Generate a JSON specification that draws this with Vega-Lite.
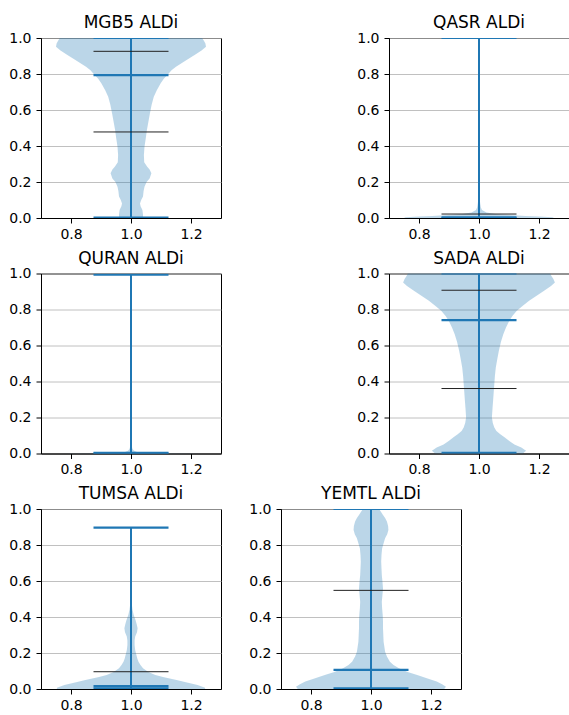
{
  "$schema": "https://vega.github.io/schema/vega-lite/v6.json",
  "background": "white",
  "padding": {"left": 8, "top": 13, "right": 0, "bottom": 0},
  "datasets": {
    "body": [
      {"panel":"MGB5","y":0.0,"lo":0.960,"hi":1.040},
      {"panel":"MGB5","y":0.02,"lo":0.960,"hi":1.040},
      {"panel":"MGB5","y":0.044,"lo":0.962,"hi":1.038},
      {"panel":"MGB5","y":0.065,"lo":0.968,"hi":1.032},
      {"panel":"MGB5","y":0.081,"lo":0.970,"hi":1.030},
      {"panel":"MGB5","y":0.10,"lo":0.966,"hi":1.034},
      {"panel":"MGB5","y":0.119,"lo":0.960,"hi":1.040},
      {"panel":"MGB5","y":0.15,"lo":0.958,"hi":1.042},
      {"panel":"MGB5","y":0.174,"lo":0.955,"hi":1.045},
      {"panel":"MGB5","y":0.2,"lo":0.948,"hi":1.052},
      {"panel":"MGB5","y":0.22,"lo":0.938,"hi":1.062},
      {"panel":"MGB5","y":0.248,"lo":0.932,"hi":1.068},
      {"panel":"MGB5","y":0.27,"lo":0.938,"hi":1.062},
      {"panel":"MGB5","y":0.285,"lo":0.946,"hi":1.054},
      {"panel":"MGB5","y":0.31,"lo":0.956,"hi":1.044},
      {"panel":"MGB5","y":0.35,"lo":0.957,"hi":1.043},
      {"panel":"MGB5","y":0.396,"lo":0.955,"hi":1.045},
      {"panel":"MGB5","y":0.44,"lo":0.951,"hi":1.049},
      {"panel":"MGB5","y":0.489,"lo":0.947,"hi":1.053},
      {"panel":"MGB5","y":0.535,"lo":0.942,"hi":1.058},
      {"panel":"MGB5","y":0.581,"lo":0.937,"hi":1.063},
      {"panel":"MGB5","y":0.63,"lo":0.931,"hi":1.069},
      {"panel":"MGB5","y":0.674,"lo":0.924,"hi":1.076},
      {"panel":"MGB5","y":0.71,"lo":0.914,"hi":1.086},
      {"panel":"MGB5","y":0.748,"lo":0.901,"hi":1.099},
      {"panel":"MGB5","y":0.775,"lo":0.890,"hi":1.110},
      {"panel":"MGB5","y":0.794,"lo":0.879,"hi":1.121},
      {"panel":"MGB5","y":0.822,"lo":0.864,"hi":1.136},
      {"panel":"MGB5","y":0.84,"lo":0.850,"hi":1.150},
      {"panel":"MGB5","y":0.859,"lo":0.833,"hi":1.167},
      {"panel":"MGB5","y":0.88,"lo":0.812,"hi":1.188},
      {"panel":"MGB5","y":0.906,"lo":0.788,"hi":1.212},
      {"panel":"MGB5","y":0.93,"lo":0.765,"hi":1.235},
      {"panel":"MGB5","y":0.952,"lo":0.750,"hi":1.250},
      {"panel":"MGB5","y":0.97,"lo":0.752,"hi":1.248},
      {"panel":"MGB5","y":0.985,"lo":0.757,"hi":1.243},
      {"panel":"MGB5","y":1.0,"lo":0.763,"hi":1.237},

      {"panel":"QASR","y":0.0,"lo":0.75,"hi":1.25},
      {"panel":"QASR","y":0.004,"lo":0.755,"hi":1.245},
      {"panel":"QASR","y":0.008,"lo":0.8,"hi":1.2},
      {"panel":"QASR","y":0.011,"lo":0.845,"hi":1.155},
      {"panel":"QASR","y":0.016,"lo":0.9,"hi":1.1},
      {"panel":"QASR","y":0.022,"lo":0.945,"hi":1.055},
      {"panel":"QASR","y":0.03,"lo":0.975,"hi":1.025},
      {"panel":"QASR","y":0.044,"lo":0.99,"hi":1.01},
      {"panel":"QASR","y":0.06,"lo":0.994,"hi":1.006},
      {"panel":"QASR","y":0.08,"lo":0.996,"hi":1.004},
      {"panel":"QASR","y":0.11,"lo":0.998,"hi":1.002},
      {"panel":"QASR","y":0.14,"lo":0.999,"hi":1.001},
      {"panel":"QASR","y":0.2,"lo":0.9997,"hi":1.0003},
      {"panel":"QASR","y":1.0,"lo":1.0,"hi":1.0},

      {"panel":"QURAN","y":0.0,"lo":0.75,"hi":1.25},
      {"panel":"QURAN","y":0.001,"lo":0.9,"hi":1.1},
      {"panel":"QURAN","y":0.003,"lo":0.96,"hi":1.04},
      {"panel":"QURAN","y":0.008,"lo":0.98,"hi":1.02},
      {"panel":"QURAN","y":0.015,"lo":0.99,"hi":1.01},
      {"panel":"QURAN","y":0.025,"lo":0.995,"hi":1.005},
      {"panel":"QURAN","y":0.045,"lo":0.998,"hi":1.002},
      {"panel":"QURAN","y":0.08,"lo":0.9995,"hi":1.0005},
      {"panel":"QURAN","y":1.0,"lo":1.0,"hi":1.0},

      {"panel":"SADA","y":0.0,"lo":0.854,"hi":1.146},
      {"panel":"SADA","y":0.015,"lo":0.843,"hi":1.157},
      {"panel":"SADA","y":0.033,"lo":0.859,"hi":1.141},
      {"panel":"SADA","y":0.05,"lo":0.882,"hi":1.118},
      {"panel":"SADA","y":0.07,"lo":0.899,"hi":1.101},
      {"panel":"SADA","y":0.09,"lo":0.915,"hi":1.085},
      {"panel":"SADA","y":0.107,"lo":0.929,"hi":1.071},
      {"panel":"SADA","y":0.125,"lo":0.942,"hi":1.058},
      {"panel":"SADA","y":0.144,"lo":0.949,"hi":1.051},
      {"panel":"SADA","y":0.17,"lo":0.954,"hi":1.046},
      {"panel":"SADA","y":0.2,"lo":0.957,"hi":1.043},
      {"panel":"SADA","y":0.25,"lo":0.955,"hi":1.045},
      {"panel":"SADA","y":0.293,"lo":0.953,"hi":1.047},
      {"panel":"SADA","y":0.34,"lo":0.951,"hi":1.049},
      {"panel":"SADA","y":0.385,"lo":0.949,"hi":1.051},
      {"panel":"SADA","y":0.43,"lo":0.947,"hi":1.053},
      {"panel":"SADA","y":0.478,"lo":0.944,"hi":1.056},
      {"panel":"SADA","y":0.525,"lo":0.939,"hi":1.061},
      {"panel":"SADA","y":0.57,"lo":0.934,"hi":1.066},
      {"panel":"SADA","y":0.62,"lo":0.927,"hi":1.073},
      {"panel":"SADA","y":0.663,"lo":0.919,"hi":1.081},
      {"panel":"SADA","y":0.70,"lo":0.910,"hi":1.090},
      {"panel":"SADA","y":0.737,"lo":0.899,"hi":1.101},
      {"panel":"SADA","y":0.765,"lo":0.888,"hi":1.112},
      {"panel":"SADA","y":0.793,"lo":0.874,"hi":1.126},
      {"panel":"SADA","y":0.82,"lo":0.855,"hi":1.145},
      {"panel":"SADA","y":0.848,"lo":0.833,"hi":1.167},
      {"panel":"SADA","y":0.876,"lo":0.808,"hi":1.192},
      {"panel":"SADA","y":0.904,"lo":0.783,"hi":1.217},
      {"panel":"SADA","y":0.93,"lo":0.760,"hi":1.240},
      {"panel":"SADA","y":0.95,"lo":0.747,"hi":1.253},
      {"panel":"SADA","y":0.97,"lo":0.752,"hi":1.248},
      {"panel":"SADA","y":0.985,"lo":0.758,"hi":1.242},
      {"panel":"SADA","y":1.0,"lo":0.763,"hi":1.237},

      {"panel":"TUMSA","y":0.0,"lo":0.753,"hi":1.247},
      {"panel":"TUMSA","y":0.007,"lo":0.753,"hi":1.247},
      {"panel":"TUMSA","y":0.022,"lo":0.778,"hi":1.222},
      {"panel":"TUMSA","y":0.035,"lo":0.81,"hi":1.19},
      {"panel":"TUMSA","y":0.05,"lo":0.848,"hi":1.152},
      {"panel":"TUMSA","y":0.065,"lo":0.89,"hi":1.11},
      {"panel":"TUMSA","y":0.078,"lo":0.919,"hi":1.081},
      {"panel":"TUMSA","y":0.095,"lo":0.942,"hi":1.058},
      {"panel":"TUMSA","y":0.115,"lo":0.960,"hi":1.040},
      {"panel":"TUMSA","y":0.135,"lo":0.969,"hi":1.031},
      {"panel":"TUMSA","y":0.152,"lo":0.975,"hi":1.025},
      {"panel":"TUMSA","y":0.17,"lo":0.979,"hi":1.021},
      {"panel":"TUMSA","y":0.189,"lo":0.982,"hi":1.018},
      {"panel":"TUMSA","y":0.215,"lo":0.986,"hi":1.014},
      {"panel":"TUMSA","y":0.244,"lo":0.988,"hi":1.012},
      {"panel":"TUMSA","y":0.27,"lo":0.988,"hi":1.012},
      {"panel":"TUMSA","y":0.291,"lo":0.986,"hi":1.014},
      {"panel":"TUMSA","y":0.315,"lo":0.980,"hi":1.020},
      {"panel":"TUMSA","y":0.337,"lo":0.978,"hi":1.022},
      {"panel":"TUMSA","y":0.36,"lo":0.981,"hi":1.019},
      {"panel":"TUMSA","y":0.383,"lo":0.985,"hi":1.015},
      {"panel":"TUMSA","y":0.411,"lo":0.991,"hi":1.009},
      {"panel":"TUMSA","y":0.44,"lo":0.995,"hi":1.005},
      {"panel":"TUMSA","y":0.467,"lo":0.997,"hi":1.003},
      {"panel":"TUMSA","y":0.5,"lo":0.9985,"hi":1.0015},
      {"panel":"TUMSA","y":0.55,"lo":0.9995,"hi":1.0005},
      {"panel":"TUMSA","y":0.6,"lo":1.0,"hi":1.0},
      {"panel":"TUMSA","y":0.896,"lo":1.0,"hi":1.0},

      {"panel":"YEMTL","y":0.0,"lo":0.756,"hi":1.244},
      {"panel":"YEMTL","y":0.013,"lo":0.75,"hi":1.25},
      {"panel":"YEMTL","y":0.027,"lo":0.763,"hi":1.237},
      {"panel":"YEMTL","y":0.041,"lo":0.781,"hi":1.219},
      {"panel":"YEMTL","y":0.06,"lo":0.814,"hi":1.186},
      {"panel":"YEMTL","y":0.078,"lo":0.846,"hi":1.154},
      {"panel":"YEMTL","y":0.095,"lo":0.878,"hi":1.122},
      {"panel":"YEMTL","y":0.115,"lo":0.907,"hi":1.093},
      {"panel":"YEMTL","y":0.133,"lo":0.925,"hi":1.075},
      {"panel":"YEMTL","y":0.152,"lo":0.937,"hi":1.063},
      {"panel":"YEMTL","y":0.18,"lo":0.947,"hi":1.053},
      {"panel":"YEMTL","y":0.207,"lo":0.953,"hi":1.047},
      {"panel":"YEMTL","y":0.263,"lo":0.958,"hi":1.042},
      {"panel":"YEMTL","y":0.30,"lo":0.959,"hi":1.041},
      {"panel":"YEMTL","y":0.337,"lo":0.960,"hi":1.040},
      {"panel":"YEMTL","y":0.375,"lo":0.960,"hi":1.040},
      {"panel":"YEMTL","y":0.411,"lo":0.961,"hi":1.039},
      {"panel":"YEMTL","y":0.45,"lo":0.963,"hi":1.037},
      {"panel":"YEMTL","y":0.485,"lo":0.964,"hi":1.036},
      {"panel":"YEMTL","y":0.52,"lo":0.962,"hi":1.038},
      {"panel":"YEMTL","y":0.559,"lo":0.960,"hi":1.040},
      {"panel":"YEMTL","y":0.60,"lo":0.962,"hi":1.038},
      {"panel":"YEMTL","y":0.633,"lo":0.964,"hi":1.036},
      {"panel":"YEMTL","y":0.67,"lo":0.965,"hi":1.035},
      {"panel":"YEMTL","y":0.707,"lo":0.966,"hi":1.034},
      {"panel":"YEMTL","y":0.745,"lo":0.965,"hi":1.035},
      {"panel":"YEMTL","y":0.781,"lo":0.963,"hi":1.037},
      {"panel":"YEMTL","y":0.81,"lo":0.958,"hi":1.042},
      {"panel":"YEMTL","y":0.837,"lo":0.953,"hi":1.047},
      {"panel":"YEMTL","y":0.86,"lo":0.946,"hi":1.054},
      {"panel":"YEMTL","y":0.883,"lo":0.942,"hi":1.058},
      {"panel":"YEMTL","y":0.905,"lo":0.943,"hi":1.057},
      {"panel":"YEMTL","y":0.93,"lo":0.947,"hi":1.053},
      {"panel":"YEMTL","y":0.95,"lo":0.953,"hi":1.047},
      {"panel":"YEMTL","y":0.967,"lo":0.960,"hi":1.040},
      {"panel":"YEMTL","y":0.985,"lo":0.967,"hi":1.033},
      {"panel":"YEMTL","y":1.0,"lo":0.973,"hi":1.027}
    ],
    "range": [
      {"panel":"MGB5","ymin":0.002,"ymax":1.0},
      {"panel":"QASR","ymin":0.0,"ymax":1.0},
      {"panel":"QURAN","ymin":0.0,"ymax":0.993},
      {"panel":"SADA","ymin":0.004,"ymax":1.0},
      {"panel":"TUMSA","ymin":0.003,"ymax":0.896},
      {"panel":"YEMTL","ymin":0.004,"ymax":1.0}
    ],
    "stat": [
      {"panel":"MGB5","v":0.002,"c":"blue"},
      {"panel":"MGB5","v":0.794,"c":"blue"},
      {"panel":"MGB5","v":1.0,"c":"blue"},
      {"panel":"MGB5","v":0.926,"c":"black"},
      {"panel":"MGB5","v":0.478,"c":"black"},
      {"panel":"QASR","v":0.0,"c":"blue"},
      {"panel":"QASR","v":0.004,"c":"blue"},
      {"panel":"QASR","v":1.0,"c":"blue"},
      {"panel":"QASR","v":0.022,"c":"black"},
      {"panel":"QURAN","v":0.0,"c":"blue"},
      {"panel":"QURAN","v":0.003,"c":"blue"},
      {"panel":"QURAN","v":0.993,"c":"blue"},
      {"panel":"SADA","v":0.004,"c":"blue"},
      {"panel":"SADA","v":0.741,"c":"blue"},
      {"panel":"SADA","v":1.0,"c":"blue"},
      {"panel":"SADA","v":0.907,"c":"black"},
      {"panel":"SADA","v":0.361,"c":"black"},
      {"panel":"TUMSA","v":0.003,"c":"blue"},
      {"panel":"TUMSA","v":0.016,"c":"blue"},
      {"panel":"TUMSA","v":0.896,"c":"blue"},
      {"panel":"TUMSA","v":0.096,"c":"black"},
      {"panel":"YEMTL","v":0.004,"c":"blue"},
      {"panel":"YEMTL","v":0.106,"c":"blue"},
      {"panel":"YEMTL","v":1.0,"c":"blue"},
      {"panel":"YEMTL","v":0.548,"c":"black"}
    ]
  },
  "spacing": 6.5,
  "vconcat": [
    {
      "hconcat": [
        {
          "title": "MGB5 ALDi", "width": 180, "height": 180,
          "layer": [
            {"data": {"name": "body"}, "transform": [{"filter": {"field": "panel", "equal": "MGB5"}}],
             "mark": {"type": "area", "orient": "horizontal", "fill": "#1f77b4", "fillOpacity": 0.3},
             "encoding": {
               "y": {"field": "y", "type": "quantitative", "scale": {"domain": [0, 1]}, "axis": {"values": [0, 0.2, 0.4, 0.6, 0.8, 1.0], "format": ".1f", "title": null}},
               "x": {"field": "lo", "type": "quantitative", "scale": {"domain": [0.725, 1.275]}, "axis": {"values": [0.8, 1.0, 1.2], "format": ".1f", "title": null}},
               "x2": {"field": "hi"}}},
            {"data": {"name": "range"}, "transform": [{"filter": {"field": "panel", "equal": "MGB5"}}],
             "mark": {"type": "rule", "color": "#1f77b4", "strokeWidth": 2, "clip": true},
             "encoding": {"x": {"datum": 1, "type": "quantitative", "axis": {"values": [0.8, 1.0, 1.2], "format": ".1f", "title": null}}, "y": {"field": "ymin", "type": "quantitative", "axis": {"values": [0, 0.2, 0.4, 0.6, 0.8, 1.0], "format": ".1f", "title": null}}, "y2": {"field": "ymax"}}},
            {"data": {"name": "stat"}, "transform": [{"filter": {"field": "panel", "equal": "MGB5"}}],
             "mark": {"type": "rule", "clip": true},
             "encoding": {"y": {"field": "v", "type": "quantitative", "axis": {"values": [0, 0.2, 0.4, 0.6, 0.8, 1.0], "format": ".1f", "title": null}}, "x": {"datum": 0.875, "type": "quantitative", "axis": {"values": [0.8, 1.0, 1.2], "format": ".1f", "title": null}}, "x2": {"datum": 1.125},
               "color": {"field": "c", "type": "nominal", "scale": {"domain": ["blue", "black"], "range": ["#1f77b4", "#222222"]}, "legend": null},
               "strokeWidth": {"field": "c", "type": "nominal", "scale": {"domain": ["blue", "black"], "range": [2.2, 1]}, "legend": null}}}
          ]
        },
        {
          "title": "QASR ALDi", "width": 180, "height": 180,
          "layer": [
            {"data": {"name": "body"}, "transform": [{"filter": {"field": "panel", "equal": "QASR"}}],
             "mark": {"type": "area", "orient": "horizontal", "fill": "#1f77b4", "fillOpacity": 0.3},
             "encoding": {
               "y": {"field": "y", "type": "quantitative", "scale": {"domain": [0, 1]}, "axis": {"values": [0, 0.2, 0.4, 0.6, 0.8, 1.0], "format": ".1f", "title": null}},
               "x": {"field": "lo", "type": "quantitative", "scale": {"domain": [0.725, 1.275]}, "axis": {"values": [0.8, 1.0, 1.2], "format": ".1f", "title": null}},
               "x2": {"field": "hi"}}},
            {"data": {"name": "range"}, "transform": [{"filter": {"field": "panel", "equal": "QASR"}}],
             "mark": {"type": "rule", "color": "#1f77b4", "strokeWidth": 2, "clip": true},
             "encoding": {"x": {"datum": 1, "type": "quantitative", "axis": {"values": [0.8, 1.0, 1.2], "format": ".1f", "title": null}}, "y": {"field": "ymin", "type": "quantitative", "axis": {"values": [0, 0.2, 0.4, 0.6, 0.8, 1.0], "format": ".1f", "title": null}}, "y2": {"field": "ymax"}}},
            {"data": {"name": "stat"}, "transform": [{"filter": {"field": "panel", "equal": "QASR"}}],
             "mark": {"type": "rule", "clip": true},
             "encoding": {"y": {"field": "v", "type": "quantitative", "axis": {"values": [0, 0.2, 0.4, 0.6, 0.8, 1.0], "format": ".1f", "title": null}}, "x": {"datum": 0.875, "type": "quantitative", "axis": {"values": [0.8, 1.0, 1.2], "format": ".1f", "title": null}}, "x2": {"datum": 1.125},
               "color": {"field": "c", "type": "nominal", "scale": {"domain": ["blue", "black"], "range": ["#1f77b4", "#222222"]}, "legend": null},
               "strokeWidth": {"field": "c", "type": "nominal", "scale": {"domain": ["blue", "black"], "range": [2.2, 1]}, "legend": null}}}
          ]
        }
      ],
      "spacing": 168, "bounds": "flush"
    },
    {
      "hconcat": [
        {
          "title": "QURAN ALDi", "width": 180, "height": 180,
          "layer": [
            {"data": {"name": "body"}, "transform": [{"filter": {"field": "panel", "equal": "QURAN"}}],
             "mark": {"type": "area", "orient": "horizontal", "fill": "#1f77b4", "fillOpacity": 0.3},
             "encoding": {
               "y": {"field": "y", "type": "quantitative", "scale": {"domain": [0, 1]}, "axis": {"values": [0, 0.2, 0.4, 0.6, 0.8, 1.0], "format": ".1f", "title": null}},
               "x": {"field": "lo", "type": "quantitative", "scale": {"domain": [0.725, 1.275]}, "axis": {"values": [0.8, 1.0, 1.2], "format": ".1f", "title": null}},
               "x2": {"field": "hi"}}},
            {"data": {"name": "range"}, "transform": [{"filter": {"field": "panel", "equal": "QURAN"}}],
             "mark": {"type": "rule", "color": "#1f77b4", "strokeWidth": 2, "clip": true},
             "encoding": {"x": {"datum": 1, "type": "quantitative", "axis": {"values": [0.8, 1.0, 1.2], "format": ".1f", "title": null}}, "y": {"field": "ymin", "type": "quantitative", "axis": {"values": [0, 0.2, 0.4, 0.6, 0.8, 1.0], "format": ".1f", "title": null}}, "y2": {"field": "ymax"}}},
            {"data": {"name": "stat"}, "transform": [{"filter": {"field": "panel", "equal": "QURAN"}}],
             "mark": {"type": "rule", "clip": true},
             "encoding": {"y": {"field": "v", "type": "quantitative", "axis": {"values": [0, 0.2, 0.4, 0.6, 0.8, 1.0], "format": ".1f", "title": null}}, "x": {"datum": 0.875, "type": "quantitative", "axis": {"values": [0.8, 1.0, 1.2], "format": ".1f", "title": null}}, "x2": {"datum": 1.125},
               "color": {"field": "c", "type": "nominal", "scale": {"domain": ["blue", "black"], "range": ["#1f77b4", "#222222"]}, "legend": null},
               "strokeWidth": {"field": "c", "type": "nominal", "scale": {"domain": ["blue", "black"], "range": [2.2, 1]}, "legend": null}}}
          ]
        },
        {
          "title": "SADA ALDi", "width": 180, "height": 180,
          "layer": [
            {"data": {"name": "body"}, "transform": [{"filter": {"field": "panel", "equal": "SADA"}}],
             "mark": {"type": "area", "orient": "horizontal", "fill": "#1f77b4", "fillOpacity": 0.3},
             "encoding": {
               "y": {"field": "y", "type": "quantitative", "scale": {"domain": [0, 1]}, "axis": {"values": [0, 0.2, 0.4, 0.6, 0.8, 1.0], "format": ".1f", "title": null}},
               "x": {"field": "lo", "type": "quantitative", "scale": {"domain": [0.725, 1.275]}, "axis": {"values": [0.8, 1.0, 1.2], "format": ".1f", "title": null}},
               "x2": {"field": "hi"}}},
            {"data": {"name": "range"}, "transform": [{"filter": {"field": "panel", "equal": "SADA"}}],
             "mark": {"type": "rule", "color": "#1f77b4", "strokeWidth": 2, "clip": true},
             "encoding": {"x": {"datum": 1, "type": "quantitative", "axis": {"values": [0.8, 1.0, 1.2], "format": ".1f", "title": null}}, "y": {"field": "ymin", "type": "quantitative", "axis": {"values": [0, 0.2, 0.4, 0.6, 0.8, 1.0], "format": ".1f", "title": null}}, "y2": {"field": "ymax"}}},
            {"data": {"name": "stat"}, "transform": [{"filter": {"field": "panel", "equal": "SADA"}}],
             "mark": {"type": "rule", "clip": true},
             "encoding": {"y": {"field": "v", "type": "quantitative", "axis": {"values": [0, 0.2, 0.4, 0.6, 0.8, 1.0], "format": ".1f", "title": null}}, "x": {"datum": 0.875, "type": "quantitative", "axis": {"values": [0.8, 1.0, 1.2], "format": ".1f", "title": null}}, "x2": {"datum": 1.125},
               "color": {"field": "c", "type": "nominal", "scale": {"domain": ["blue", "black"], "range": ["#1f77b4", "#222222"]}, "legend": null},
               "strokeWidth": {"field": "c", "type": "nominal", "scale": {"domain": ["blue", "black"], "range": [2.2, 1]}, "legend": null}}}
          ]
        }
      ],
      "spacing": 168, "bounds": "flush"
    },
    {
      "hconcat": [
        {
          "title": "TUMSA ALDi", "width": 180, "height": 180,
          "layer": [
            {"data": {"name": "body"}, "transform": [{"filter": {"field": "panel", "equal": "TUMSA"}}],
             "mark": {"type": "area", "orient": "horizontal", "fill": "#1f77b4", "fillOpacity": 0.3},
             "encoding": {
               "y": {"field": "y", "type": "quantitative", "scale": {"domain": [0, 1]}, "axis": {"values": [0, 0.2, 0.4, 0.6, 0.8, 1.0], "format": ".1f", "title": null}},
               "x": {"field": "lo", "type": "quantitative", "scale": {"domain": [0.725, 1.275]}, "axis": {"values": [0.8, 1.0, 1.2], "format": ".1f", "title": null}},
               "x2": {"field": "hi"}}},
            {"data": {"name": "range"}, "transform": [{"filter": {"field": "panel", "equal": "TUMSA"}}],
             "mark": {"type": "rule", "color": "#1f77b4", "strokeWidth": 2, "clip": true},
             "encoding": {"x": {"datum": 1, "type": "quantitative", "axis": {"values": [0.8, 1.0, 1.2], "format": ".1f", "title": null}}, "y": {"field": "ymin", "type": "quantitative", "axis": {"values": [0, 0.2, 0.4, 0.6, 0.8, 1.0], "format": ".1f", "title": null}}, "y2": {"field": "ymax"}}},
            {"data": {"name": "stat"}, "transform": [{"filter": {"field": "panel", "equal": "TUMSA"}}],
             "mark": {"type": "rule", "clip": true},
             "encoding": {"y": {"field": "v", "type": "quantitative", "axis": {"values": [0, 0.2, 0.4, 0.6, 0.8, 1.0], "format": ".1f", "title": null}}, "x": {"datum": 0.875, "type": "quantitative", "axis": {"values": [0.8, 1.0, 1.2], "format": ".1f", "title": null}}, "x2": {"datum": 1.125},
               "color": {"field": "c", "type": "nominal", "scale": {"domain": ["blue", "black"], "range": ["#1f77b4", "#222222"]}, "legend": null},
               "strokeWidth": {"field": "c", "type": "nominal", "scale": {"domain": ["blue", "black"], "range": [2.2, 1]}, "legend": null}}}
          ]
        },
        {
          "title": "YEMTL ALDi", "width": 180, "height": 180,
          "layer": [
            {"data": {"name": "body"}, "transform": [{"filter": {"field": "panel", "equal": "YEMTL"}}],
             "mark": {"type": "area", "orient": "horizontal", "fill": "#1f77b4", "fillOpacity": 0.3},
             "encoding": {
               "y": {"field": "y", "type": "quantitative", "scale": {"domain": [0, 1]}, "axis": {"values": [0, 0.2, 0.4, 0.6, 0.8, 1.0], "format": ".1f", "title": null}},
               "x": {"field": "lo", "type": "quantitative", "scale": {"domain": [0.725, 1.275]}, "axis": {"values": [0.8, 1.0, 1.2], "format": ".1f", "title": null}},
               "x2": {"field": "hi"}}},
            {"data": {"name": "range"}, "transform": [{"filter": {"field": "panel", "equal": "YEMTL"}}],
             "mark": {"type": "rule", "color": "#1f77b4", "strokeWidth": 2, "clip": true},
             "encoding": {"x": {"datum": 1, "type": "quantitative", "axis": {"values": [0.8, 1.0, 1.2], "format": ".1f", "title": null}}, "y": {"field": "ymin", "type": "quantitative", "axis": {"values": [0, 0.2, 0.4, 0.6, 0.8, 1.0], "format": ".1f", "title": null}}, "y2": {"field": "ymax"}}},
            {"data": {"name": "stat"}, "transform": [{"filter": {"field": "panel", "equal": "YEMTL"}}],
             "mark": {"type": "rule", "clip": true},
             "encoding": {"y": {"field": "v", "type": "quantitative", "axis": {"values": [0, 0.2, 0.4, 0.6, 0.8, 1.0], "format": ".1f", "title": null}}, "x": {"datum": 0.875, "type": "quantitative", "axis": {"values": [0.8, 1.0, 1.2], "format": ".1f", "title": null}}, "x2": {"datum": 1.125},
               "color": {"field": "c", "type": "nominal", "scale": {"domain": ["blue", "black"], "range": ["#1f77b4", "#222222"]}, "legend": null},
               "strokeWidth": {"field": "c", "type": "nominal", "scale": {"domain": ["blue", "black"], "range": [2.2, 1]}, "legend": null}}}
          ]
        }
      ],
      "spacing": 60, "bounds": "flush"
    }
  ],
  "config": {
    "font": "DejaVu Sans",
    "view": {"stroke": "black", "strokeWidth": 1},
    "axis": {"labelFont": "DejaVu Sans", "labelFontSize": 14, "labelColor": "black", "tickColor": "black", "tickSize": 5, "tickWidth": 1, "domainColor": "black", "domainWidth": 1, "zindex": 1, "labelOverlap": false, "labelFlush": false},
    "axisX": {"grid": false, "labelPadding": 4},
    "axisY": {"grid": true, "gridColor": "#b0b0b0", "gridWidth": 0.8, "labelPadding": 5},
    "title": {"font": "DejaVu Sans", "fontSize": 17, "fontWeight": "normal", "color": "black", "offset": 0, "dy": 5}
  }
}
